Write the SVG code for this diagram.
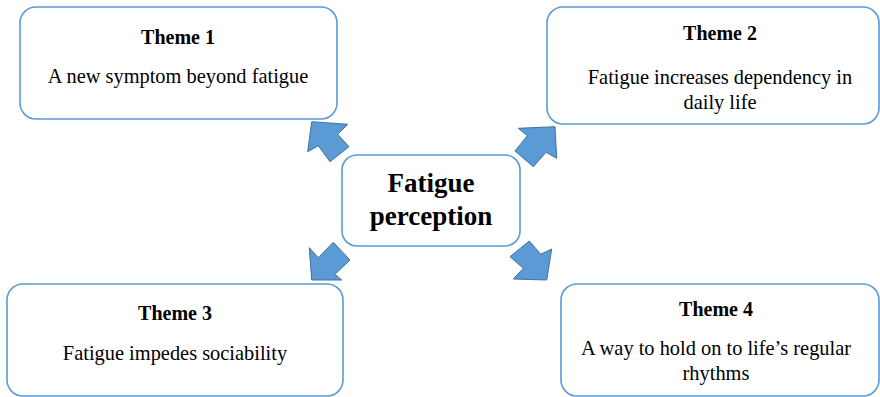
<svg xmlns="http://www.w3.org/2000/svg" width="880" height="397" viewBox="0 0 880 397">
<style>
.box{fill:#fff;stroke:#5b9bd5;stroke-width:1.6}
.t{font-family:"Liberation Serif","Times New Roman",serif;font-size:20px;font-weight:bold;fill:#000;text-anchor:middle}
.b{font-family:"Liberation Serif","Times New Roman",serif;font-size:20.4px;fill:#000;text-anchor:middle}
.c{font-family:"Liberation Serif","Times New Roman",serif;font-size:27px;font-weight:bold;fill:#000;text-anchor:middle}
.arr{fill:#5b9bd5;stroke:#41719c;stroke-width:1;stroke-linejoin:miter}
</style>
<rect width="880" height="397" fill="#fff"/>
<g id="connectors">
<polygon class="arr" points="311.7,121.7 307.7,151.7 318.3,145.7 330,161.7 349,146.7 337.7,134.3 347.7,124.3"/>
<polygon class="arr" points="555,126.7 518.3,128.3 527.3,135.7 515,151 533.3,166.7 546,152.3 556.7,158.3"/>
<polygon class="arr" points="311.7,280 309.3,247.7 318.3,257.7 333.3,242.3 350,260 335,274.3 341.7,280"/>
<polygon class="arr" points="546.7,280 513.3,279 523.3,268.3 510,256.7 529.3,241 540.7,254.3 551.7,249"/>
</g>
<g id="center">
<rect class="box" x="342" y="155" width="178" height="91" rx="15"/>
<text class="c" x="431" y="192">Fatigue</text>
<text class="c" x="431" y="225">perception</text>
</g>
<g id="theme1">
<rect class="box" x="20" y="7" width="317" height="112" rx="16"/>
<text class="t" x="178" y="44">Theme 1</text>
<text class="b" x="178" y="83">A new symptom beyond fatigue</text>
</g>
<g id="theme2">
<rect class="box" x="547" y="7" width="332" height="117" rx="16"/>
<text class="t" x="720" y="40">Theme 2</text>
<text class="b" x="720" y="84">Fatigue increases dependency in</text>
<text class="b" x="720" y="109">daily life</text>
</g>
<g id="theme3">
<rect class="box" x="7" y="284" width="336" height="112" rx="16"/>
<text class="t" x="175" y="320">Theme 3</text>
<text class="b" x="175" y="360">Fatigue impedes sociability</text>
</g>
<g id="theme4">
<rect class="box" x="561" y="284" width="318" height="112" rx="16"/>
<text class="t" x="716" y="316">Theme 4</text>
<text class="b" x="716" y="355">A way to hold on to life’s regular</text>
<text class="b" x="716" y="380">rhythms</text>
</g>
</svg>
